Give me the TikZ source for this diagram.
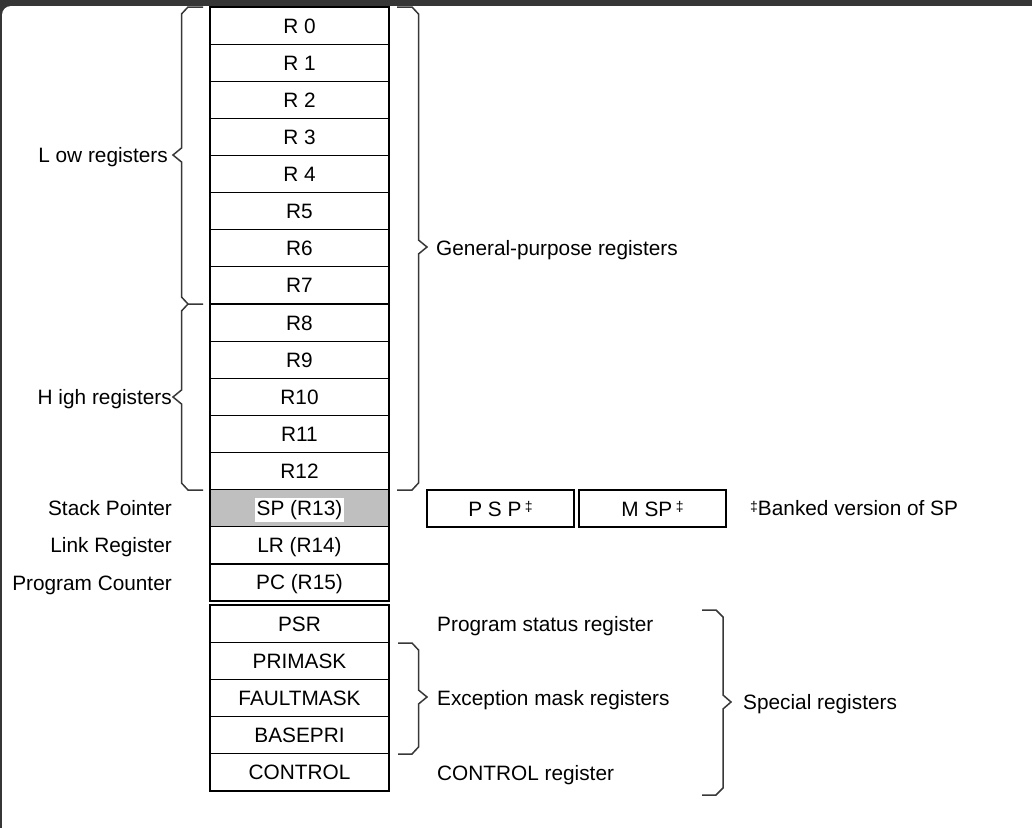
\documentclass[tikz,border=0pt]{standalone}
\usepackage{fontspec}
\setmainfont{Liberation Sans}
\newcommand{\bankmark}{\raisebox{0.4ex}{\fontsize{14}{16}\selectfont ‡}}
\begin{document}
\begin{tikzpicture}[x=1pt,y=-1pt,
  every node/.style={font=\fontsize{20.8}{25}\selectfont, inner sep=0pt, text height=15pt, text depth=0pt},
  reg/.style={draw=black, line width=1.2pt, minimum width=179pt, minimum height=37.15pt, anchor=center},
  regb/.style={reg, minimum height=37.2pt},
  bank/.style={draw=black, line width=1.2pt, minimum width=147pt, minimum height=37pt},
  lbl/.style={anchor=east},
  rlbl/.style={anchor=west},
  brace/.style={draw=black!78, line width=1.5pt, line join=miter}]
\useasboundingbox (0,0) rectangle (1032,828);
\clip (0,0) rectangle (1032,828);
% window frame
\fill[black!79] (0,0) rectangle (1032,828);
\fill[white, rounded corners=9pt] (2,6) rectangle (1060,860);

% core registers R0-R12, SP, LR, PC
\foreach \n/\t [count=\i from 0] in {r0/R 0, r1/R 1, r2/R 2, r3/R 3, r4/R 4, r5/R5, r6/R6, r7/R7, r8/R8, r9/R9, r10/R10, r11/R11, r12/R12}
  \node[reg] (\n) at (299.5,{7+37.125*(\i+0.5)}) {\t};
\node[reg, fill=black!25] (sp) at (299.5,{7+37.125*13.5}) {};
\node[fill=white, inner sep=1.5pt, text height=16pt, text depth=4.5pt, anchor=base] (sptext) at (299.5,515.5) {SP (R13)};
\node[reg] (lr) at (299.5,{7+37.125*14.5}) {LR (R14)};
\node[reg] (pc) at (299.5,{7+37.125*15.5}) {PC (R15)};

% special registers
\foreach \n/\t [count=\i from 0] in {psr/PSR, primask/PRIMASK, faultmask/FAULTMASK, basepri/BASEPRI, control/CONTROL}
  \node[regb] (\n) at (299.5,{605+37.2*(\i+0.5)}) {\t};

% banked stack pointers
\node[bank] (psp) at (500.5,508.5) {P S P\,\bankmark};
\node[bank] (msp) at (652.5,508.5) {M SP\,\bankmark};
\node[rlbl] (banknote) at (750,508) {\bankmark Banked version of SP};

% left-hand labels
\node[lbl] (low) at (168,155) {L ow registers};
\node[lbl] (high) at (172,397) {H igh registers};
\node[lbl] (spl) at (172,508) {Stack Pointer};
\node[lbl] (lrl) at (172,545) {Link Register};
\node[lbl] (pcl) at (172,583) {Program Counter};

% right-hand labels
\node[rlbl] (gpr) at (436,248) {General-purpose registers};
\node[rlbl] (psrl) at (437,624) {Program status register};
\node[rlbl] (excl) at (437,698) {Exception mask registers};
\node[rlbl] (ctrll) at (437,773) {CONTROL register};
\node[rlbl] (spec) at (743,702) {Special registers};

% braces: low and high registers (opening left)
\draw[brace] (203,7) -- (188,7) -- (181.5,14) -- (181.5,148) -- (173,155) -- (181.5,162) -- (181.5,297) -- (188,304) -- (203,304);
\draw[brace] (188,304) -- (181.5,311) -- (181.5,390) -- (173,397) -- (181.5,404) -- (181.5,483) -- (188,490) -- (203,490);
% general-purpose registers
\draw[brace] (397,7) -- (412,7) -- (418.5,14) -- (418.5,240) -- (427,247) -- (418.5,254) -- (418.5,483) -- (412,490) -- (397,490);
% exception mask registers
\draw[brace] (398,643) -- (412,643) -- (418.5,650) -- (418.5,690) -- (427,697) -- (418.5,704) -- (418.5,747) -- (412,754) -- (398,754);
% special registers
\draw[brace] (702,610) -- (716,610) -- (723,617) -- (723,695) -- (731,702) -- (723,709) -- (723,788) -- (716,795) -- (702,795);
\end{tikzpicture}
\end{document}
